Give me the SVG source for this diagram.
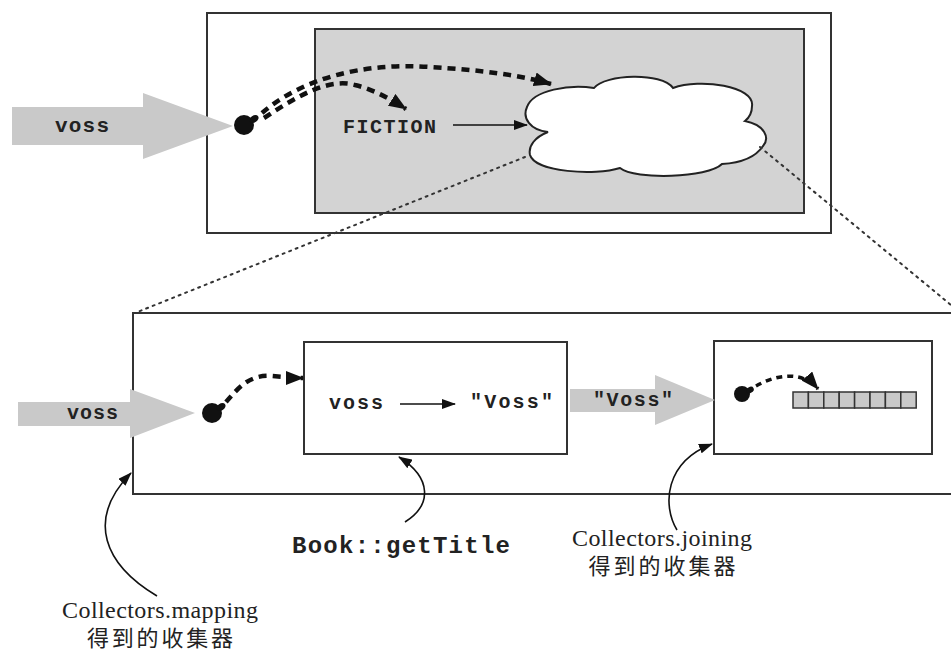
<svg xmlns="http://www.w3.org/2000/svg" width="951" height="653" viewBox="0 0 951 653">
<defs>
<marker id="dh" markerUnits="userSpaceOnUse" viewBox="0 0 18 14" refX="17" refY="7" markerWidth="18" markerHeight="14" orient="auto"><path d="M0,0 L18,7 L0,14 Z" fill="#111"/></marker>
<marker id="th" markerUnits="userSpaceOnUse" viewBox="0 0 14 10" refX="13" refY="5" markerWidth="14" markerHeight="10" orient="auto"><path d="M0,0 L14,5 L0,10 Z" fill="#111"/></marker>
</defs>
<style>
.box{fill:#fff;stroke:#333;stroke-width:2}
.gbox{fill:#d3d3d3;stroke:#333;stroke-width:2}
.big{fill:#c9c9c9}
.mono{font-family:"Liberation Mono","DejaVu Sans Mono",monospace;font-weight:bold;fill:#222}
.ser{font-family:"Liberation Serif","Noto Sans CJK SC",serif;fill:#222;text-anchor:middle}
.cjk{font-family:"Noto Sans CJK SC",sans-serif;fill:#333;text-anchor:middle}
.dash{fill:none;stroke:#111;stroke-width:4.5;stroke-dasharray:8 6;marker-end:url(#dh)}
.thin{fill:none;stroke:#111;stroke-width:1.6;marker-end:url(#th)}
.dot{fill:#111}
.dotted{fill:none;stroke:#333;stroke-width:2;stroke-dasharray:2 5;stroke-linecap:round}
.cell{fill:#c9c9c9;stroke:#333;stroke-width:1.5}
</style>

<g id="top-outer"><rect class="box" x="207" y="13" width="624" height="220"/></g>
<g id="top-inner"><rect class="gbox" x="315" y="29" width="489" height="184"/></g>

<g id="top-voss-arrow">
<path class="big" d="M12,107 L143,107 L143,93 L233,126 L143,159 L143,145 L12,145 Z"/>
<text class="mono" x="55" y="132" font-size="21" textLength="54">voss</text>
</g>

<g id="top-dot">
<circle class="dot" cx="244" cy="125" r="10"/>
<ellipse class="dot" cx="254" cy="119" rx="5" ry="3.5" transform="rotate(-35 254 119)"/>
</g>

<g id="fiction"><text class="mono" x="343" y="133" font-size="20" textLength="93">FICTION</text></g>

<g id="cloud">
<path d="M548,132 C530,130 522,118 527,107 C533,90 570,84 594,88 C605,74 662,72 673,88 C700,78 755,86 752,106 C752,112 750,117 745,121 C765,125 770,138 763,146 C755,158 740,163 722,164 C708,178 635,180 620,168 C595,176 535,172 530,155 C528,146 535,137 548,132 Z" fill="#fff" stroke="#222" stroke-width="2"/>
</g>

<g id="bottom-outer"><rect class="box" x="133" y="313" width="830" height="181"/></g>
<g id="box-map"><rect class="box" x="304" y="342" width="263" height="112"/>
<text class="mono" x="329" y="409" font-size="20" textLength="54">voss</text>
<text class="mono" x="470" y="408" font-size="20" textLength="83">"Voss"</text>
</g>
<g id="box-join"><rect class="box" x="714" y="341" width="218" height="113"/>
<circle class="dot" cx="742" cy="394" r="8"/>
<ellipse class="dot" cx="750" cy="390" rx="4" ry="3" transform="rotate(-30 750 390)"/>
<g id="array">
<rect class="cell" x="793" y="392" width="15.4" height="16"/>
<rect class="cell" x="808.4" y="392" width="15.4" height="16"/>
<rect class="cell" x="823.8" y="392" width="15.4" height="16"/>
<rect class="cell" x="839.2" y="392" width="15.4" height="16"/>
<rect class="cell" x="854.6" y="392" width="15.4" height="16"/>
<rect class="cell" x="870" y="392" width="15.4" height="16"/>
<rect class="cell" x="885.4" y="392" width="15.4" height="16"/>
<rect class="cell" x="900.8" y="392" width="15.4" height="16"/>
</g>
</g>

<g id="bottom-voss-arrow">
<path class="big" d="M18,402 L130,402 L130,389 L195,413 L130,438 L130,426 L18,426 Z"/>
<text class="mono" x="67" y="419" font-size="20" textLength="51">voss</text>
</g>
<g id="bottom-dot">
<circle class="dot" cx="212" cy="413" r="10"/>
<ellipse class="dot" cx="221" cy="407" rx="5" ry="3.5" transform="rotate(-35 221 407)"/>
</g>

<g id="voss-str-arrow">
<path class="big" d="M570,389 L655,389 L655,375 L715,400 L655,425 L655,412 L570,412 Z"/>
<text class="mono" x="593" y="406" font-size="20" textLength="80">"Voss"</text>
</g>

<g id="labels">
<text class="mono" x="292" y="553" font-size="24" textLength="218">Book::getTitle</text>
<text class="ser" x="160" y="618" font-size="24" textLength="196">Collectors.mapping</text>
<text class="ser" x="160" y="646" font-size="22" textLength="146">得到的收集器</text>
<text class="ser" x="662" y="546" font-size="24" textLength="180">Collectors.joining</text>
<text class="ser" x="662" y="574" font-size="22" textLength="147">得到的收集器</text>
</g>

<g id="connectors">
<path class="dash" d="M262,113 C300,80 360,62 430,67 C480,70 520,75 551,84"/>
<path class="dash" d="M264,118 C300,94 330,78 355,85 C375,90 392,100 406,109"/>
<path class="thin" d="M453,125 L527,125"/>
<path class="dotted" d="M525,157 L135,313"/>
<path class="dotted" d="M760,147 L951,305"/>
<path class="dash" d="M226,402 C238,388 250,374 272,376 C285,377 295,378 303,378"/>
<path class="dash" d="M756,386 C772,377 800,368 818,389" style="stroke-width:3.5;stroke-dasharray:6 5"/>
<path class="thin" d="M400,404 L455,404"/>
<path class="thin" d="M157,596 C105,565 85,520 131,473"/>
<path class="thin" d="M405,522 C432,505 432,478 399,457"/>
<path class="thin" d="M677,530 C662,505 665,462 712,444"/>
</g>
</svg>
